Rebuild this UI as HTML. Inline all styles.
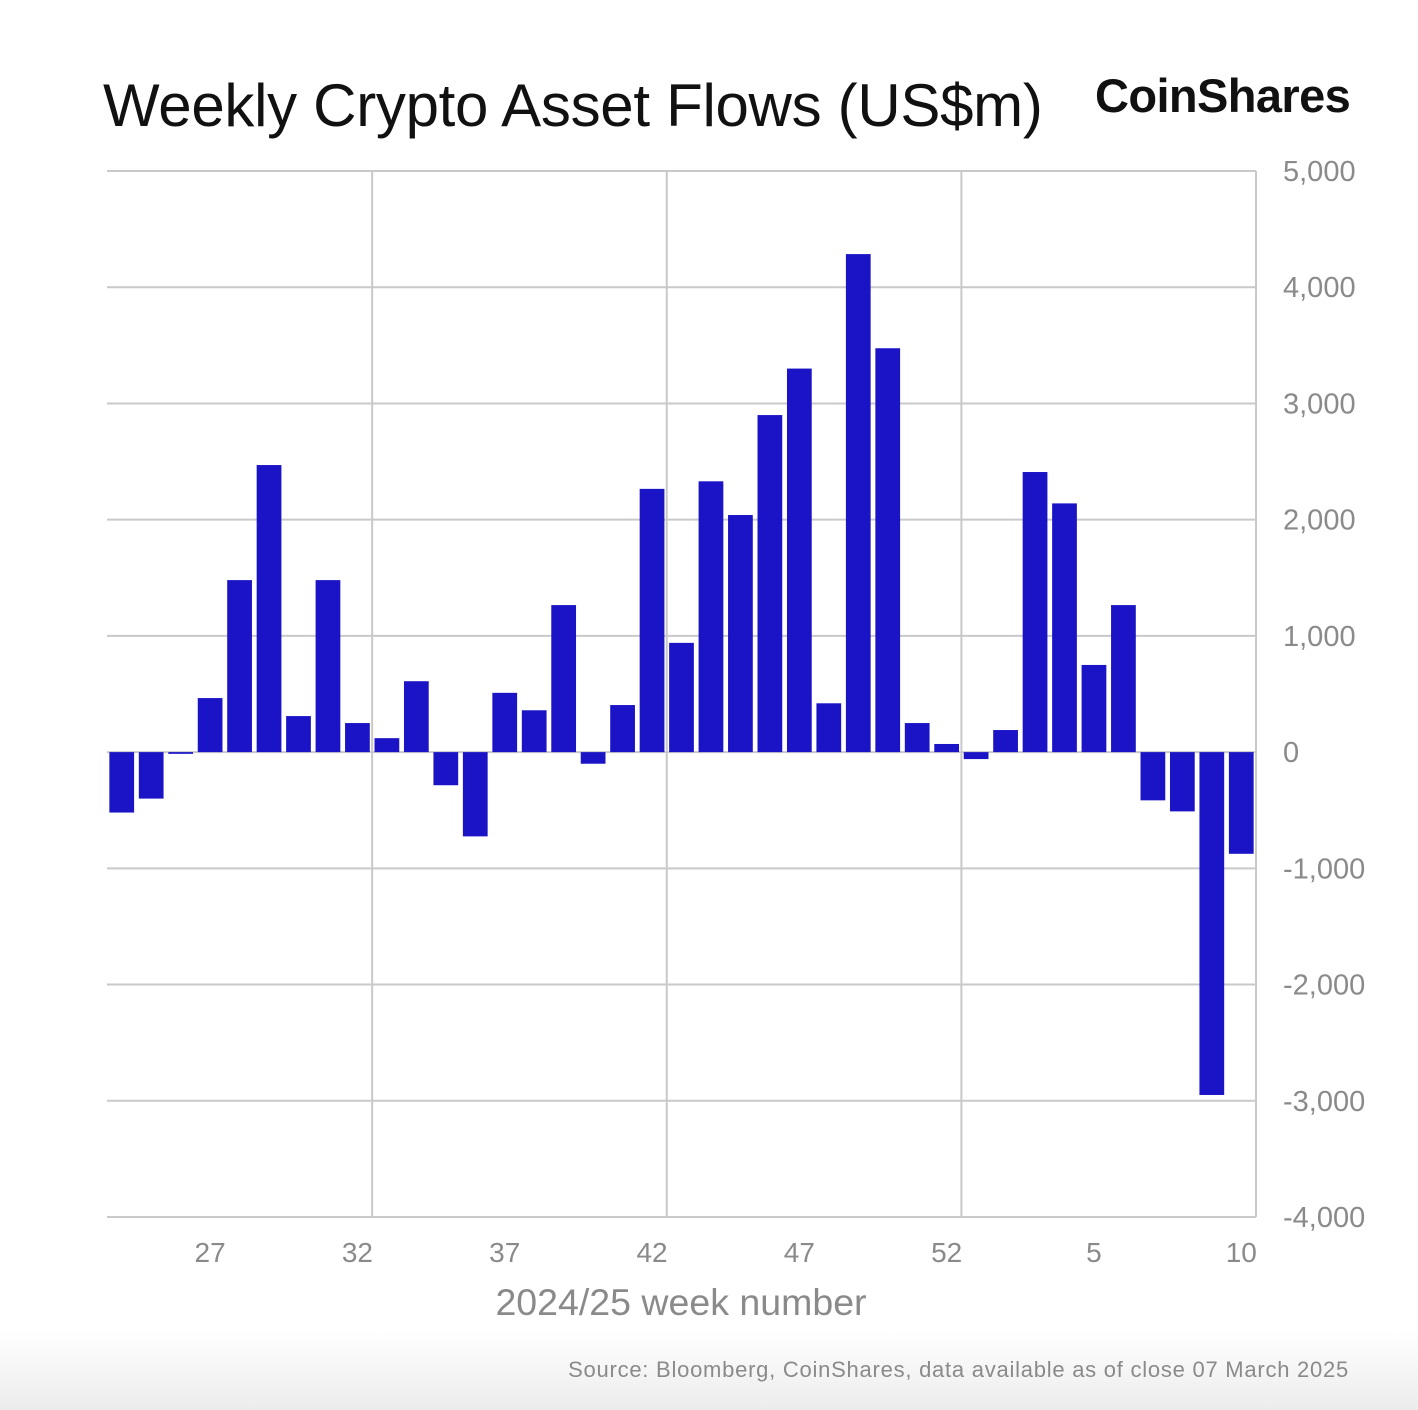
<!DOCTYPE html>
<html><head><meta charset="utf-8"><style>
html,body{margin:0;padding:0;background:#fff;}
body{width:1418px;height:1410px;position:relative;overflow:hidden;font-family:"Liberation Sans",sans-serif;background:linear-gradient(to bottom,#fff 0,#fff 1330px,#ececec 1410px);}
#title{position:absolute;left:103px;top:71px;font-size:60px;color:#111;white-space:nowrap;letter-spacing:-0.3px;}
#logo{position:absolute;left:1095px;top:68px;font-size:47px;font-weight:bold;color:#111;letter-spacing:-0.6px;white-space:nowrap;}
#source{position:absolute;right:69px;top:1357px;font-size:22px;color:#8a8a8a;white-space:nowrap;letter-spacing:0.75px;}
svg{position:absolute;left:0;top:0;}
</style></head><body>
<div id="title">Weekly Crypto Asset Flows (US$m)</div>
<div id="logo">CoinShares</div>
<div id="source">Source: Bloomberg, CoinShares, data available as of close 07 March 2025</div>
<svg id="chart" width="1418" height="1410"></svg>
<script>
const weeks=[24,25,26,27,28,29,30,31,32,33,34,35,36,37,38,39,40,41,42,43,44,45,46,47,48,49,50,51,52,1,2,3,4,5,6,7,8,9,10];
const flows=[-520,-400,-15,465,1480,2470,310,1480,250,120,610,-285,-725,510,360,1265,-100,405,2265,940,2330,2040,2900,3300,420,4285,3475,250,70,-60,190,2410,2140,750,1265,-415,-510,-2950,-875];
const yTicks=[5000,4000,3000,2000,1000,0,-1000,-2000,-3000,-4000];
const xLabels=["27","32","37","42","47","52","5","10"];
const xLabelIdx=[3,8,13,18,23,28,33,38];
const vGridIdx=[9,19,29,39];
const NS="http://www.w3.org/2000/svg";
const svg=document.getElementById('chart');
const L=107,R=1256,T=171,B=1217,yMax=5000,yMin=-4000;
const band=(R-L)/weeks.length;
const y=v=>T+(yMax-v)/(yMax-yMin)*(B-T);
const xb=i=>L+i*band;
function mk(tag,attrs){const e=document.createElementNS(NS,tag);for(const k in attrs)e.setAttribute(k,attrs[k]);svg.appendChild(e);return e;}
yTicks.forEach(v=>{
  const g=mk('line',{x1:L,x2:R,y1:y(v),y2:y(v),stroke:'#c9c9c9','stroke-width':2});
  
  
  const t=mk('text',{x:1283,y:y(v)+10,'font-size':29,fill:'#8a8a8a'});
  t.textContent=v.toLocaleString('en-US');
  
  
});
vGridIdx.forEach(i=>{
  const g=mk('line',{x1:xb(i),x2:xb(i),y1:T,y2:B,stroke:'#c9c9c9','stroke-width':2});
  
  
});
flows.forEach((v,i)=>{
  const w=band*0.84;
  const r=mk('rect',{x:xb(i)+(band-w)/2,y:Math.min(y(v),y(0)),width:w,height:Math.max(1.5,Math.abs(y(v)-y(0))),fill:'#1b14c6'});
  
  
});
xLabels.forEach((s,k)=>{
  const t=mk('text',{x:xb(xLabelIdx[k])+band/2,y:1262,'font-size':28,fill:'#8a8a8a','text-anchor':'middle'});
  t.textContent=s;
  
  
});
const at=mk('text',{x:681,y:1315,'font-size':37.5,fill:'#8a8a8a','text-anchor':'middle'});
at.textContent='2024/25 week number';


</script>
</body></html>
